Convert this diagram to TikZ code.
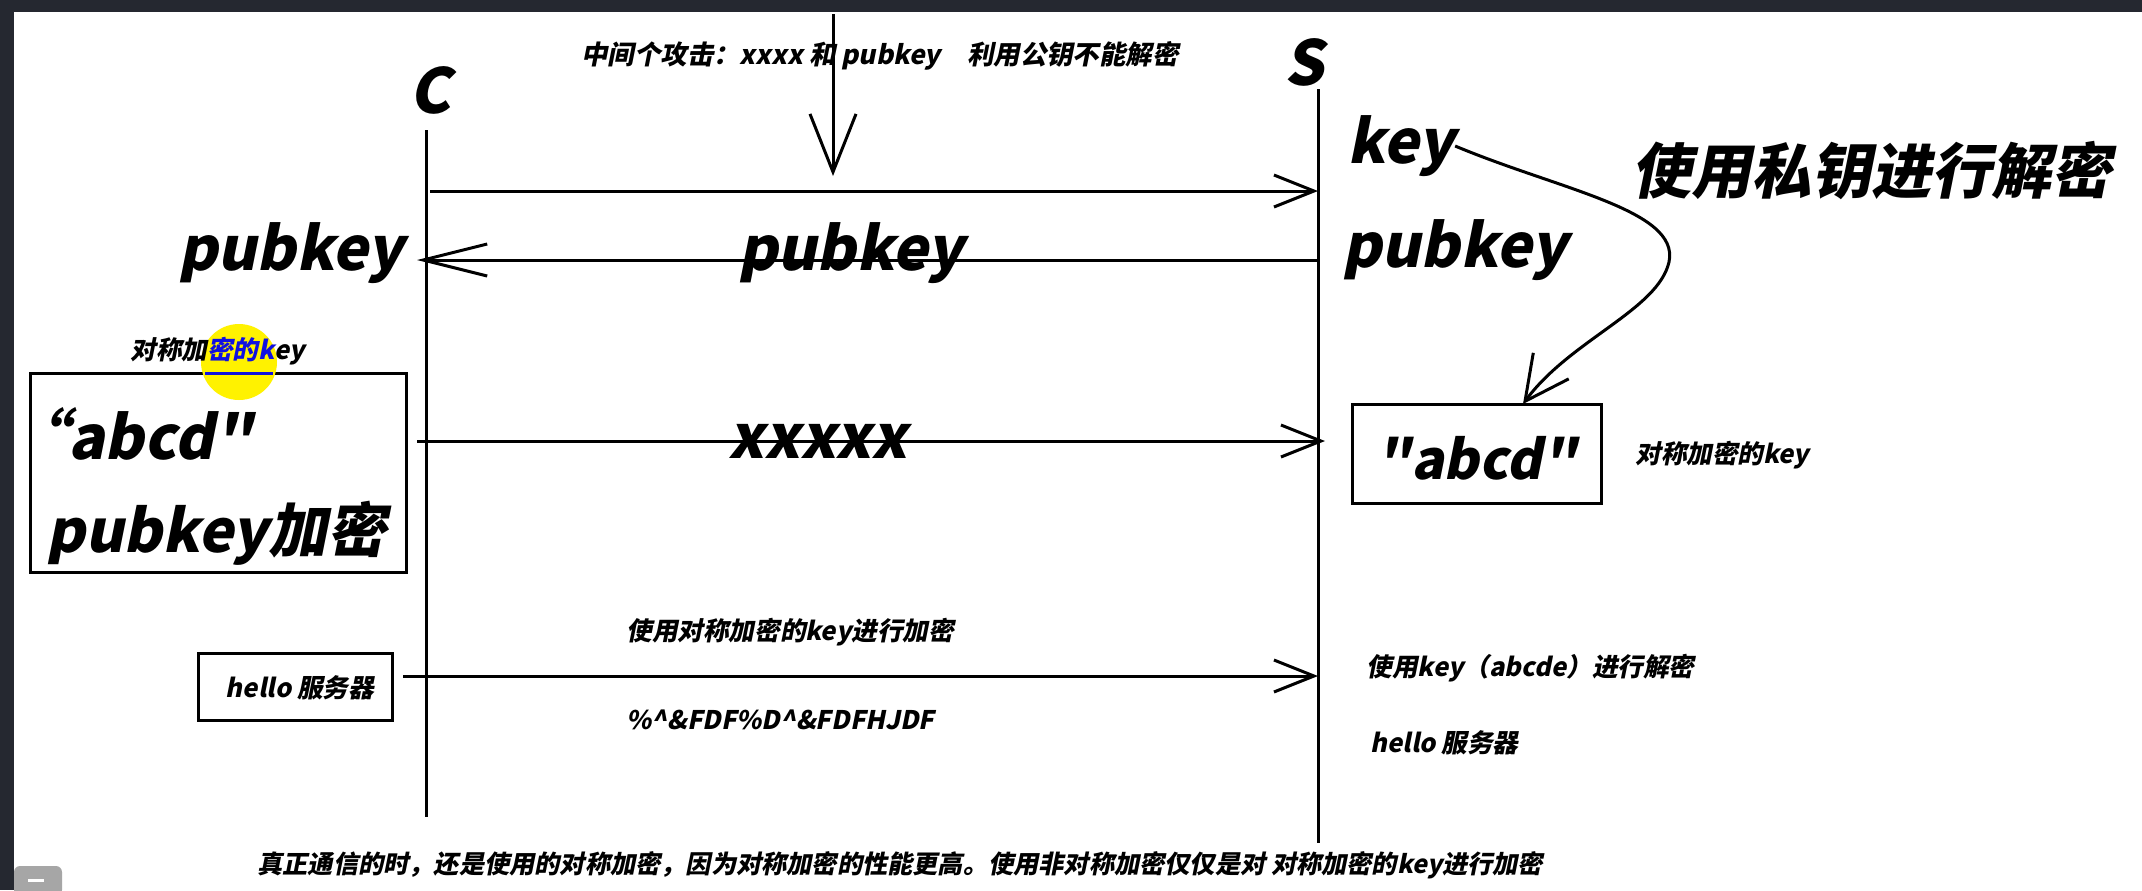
\documentclass[tikz,border=0pt]{standalone}
\usepackage{fontspec}
\newfontfamily\yh{Noto Sans CJK SC}[FakeSlant=0.2]
\usetikzlibrary{arrows.meta}
\definecolor{frame}{HTML}{252830}
\definecolor{hiblue}{HTML}{1010E0}
\tikzset{
  line/.style={line width=1.5pt},
  msg/.style={line width=1.5pt, -{Straight Barb[length=20pt,width=16pt,line width=1.5pt]}},
  txt/.style={font=\yh\bfseries, inner sep=0pt},
  big/.style={txt, font=\yh\bfseries\fontsize{30}{34}\selectfont},
  huge/.style={txt, font=\yh\bfseries\fontsize{31}{36}\selectfont},
  small/.style={txt, font=\yh\bfseries\fontsize{12.8}{16}\selectfont},
  box/.style={draw, line width=1.5pt, inner sep=0pt}
}
\begin{document}
\begin{tikzpicture}[x=0.5pt,y=-0.5pt]
\useasboundingbox (0,0) rectangle (2142,890);
\fill[white] (0,0) rectangle (2142,890);
\fill[frame] (0,0) rectangle (2142,12);
\fill[frame] (0,0) rectangle (14,890);
\fill[gray!70, rounded corners=3pt] (14,866) rectangle (62,896);
\fill[white] (28,879) rectangle (44,882);

% lifelines
\node[huge] (C) at (430,90) {C};
\node[huge] (S) at (1304,62) {S};
\coordinate (Ctop) at (426,130);
\coordinate (Cbot) at (426,817);
\coordinate (Stop) at (1318,89);
\coordinate (Sbot) at (1318,843);
\draw[line] (Ctop) -- (Cbot);
\draw[line] (Stop) -- (Sbot);

% attack note
\node[small, font=\yh\bfseries\fontsize{13.2}{16}\selectfont] (atktxt) at (880,56) {中间个攻击：xxxx 和 pubkey\quad 利用公钥不能解密};
\coordinate (atka) at (833,14);
\coordinate (atkb) at (833,176);
\draw[line, -{Straight Barb[length=29pt,width=23pt,line width=1.5pt]}] (atka) -- (atkb);

% message 1
\coordinate (m1a) at (430,191);
\coordinate (m1b) at (1318,191);
\draw[msg] (m1a) -- (m1b);
\node[big] (key) at (1401,146) {key};
\node[big] (spub) at (1455,250) {pubkey};
\node[txt, font=\yh\bfseries\fontsize{30}{36}\selectfont] (priv) at (1871,171) {使用私钥进行解密};

% message 2
\coordinate (m2a) at (1318,260);
\coordinate (m2b) at (417,260);
\draw[line, -{Straight Barb[length=32pt,width=16pt,line width=1.5pt]}] (m2a) -- (m2b);
\node[big] (cpub) at (291,253) {pubkey};
\node[big] (mpub) at (851,253) {pubkey};

% left key box
\node[box, minimum width=188pt, minimum height=99.5pt] (lbox) at (218,472.5) {};
\fill[yellow] (239,362) circle (38);
\draw[hiblue, line width=1.5pt] (205,373) -- (273,373);
\node[small, anchor=west] (lkey) at (130,351) {对称加\textcolor{hiblue}{密的k}ey};
\node[big, anchor=west] (labcd) at (8,434) {“abcd"};
\node[big, anchor=west, font=\yh\bfseries\fontsize{29.5}{34}\selectfont] (lenc) at (46,533) {pubkey加密};

% message 3
\coordinate (m3a) at (417,441);
\coordinate (m3b) at (1325,441);
\draw[msg] (m3a) -- (m3b);
\node[big] (xx) at (818,441) {xxxxx};

% right key box
\node[box, minimum width=124.5pt, minimum height=49.5pt] (rbox) at (1476.5,453.5) {};
\node[big, font=\yh\bfseries\fontsize{27}{34}\selectfont] (rabcd) at (1476.5,458) {"abcd"};
\node[small, anchor=west] (rkey) at (1635,455) {对称加密的key};

% private key curve
\coordinate (rboxtop) at (1523,404);
\draw[line width=1.5pt, -{Straight Barb[length=22pt,width=22pt,line width=1.5pt]}]
  (key.east) .. controls (1560,190) and (1680,210) .. (1669,262)
  .. controls (1658,310) and (1570,340) .. (rboxtop);

% message 4
\node[box, minimum width=97pt, minimum height=33.5pt] (hello) at (295,686.5) {};
\node[small] (hellot) at (300,688) {hello 服务器};
\coordinate (m4a) at (403,676);
\coordinate (m4b) at (1318,676);
\draw[msg] (m4a) -- (m4b);
\node[small, anchor=west] (enc) at (626,632) {使用对称加密的key进行加密};
\node[small, anchor=west] (cipher) at (626,720) {\%\^{}\&FDF\%D\^{}\&FDFHJDF};
\node[small, anchor=west] (dec) at (1366,668) {使用key（abcde）进行解密};
\node[small, anchor=west] (hellor) at (1370,743) {hello 服务器};

% bottom note
\node[small, anchor=west, font=\yh\bfseries\fontsize{12.6}{16}\selectfont] (note) at (257,865) {真正通信的时，还是使用的对称加密，因为对称加密的性能更高。使用非对称加密仅仅是对 对称加密的key进行加密};
\end{tikzpicture}
\end{document}
